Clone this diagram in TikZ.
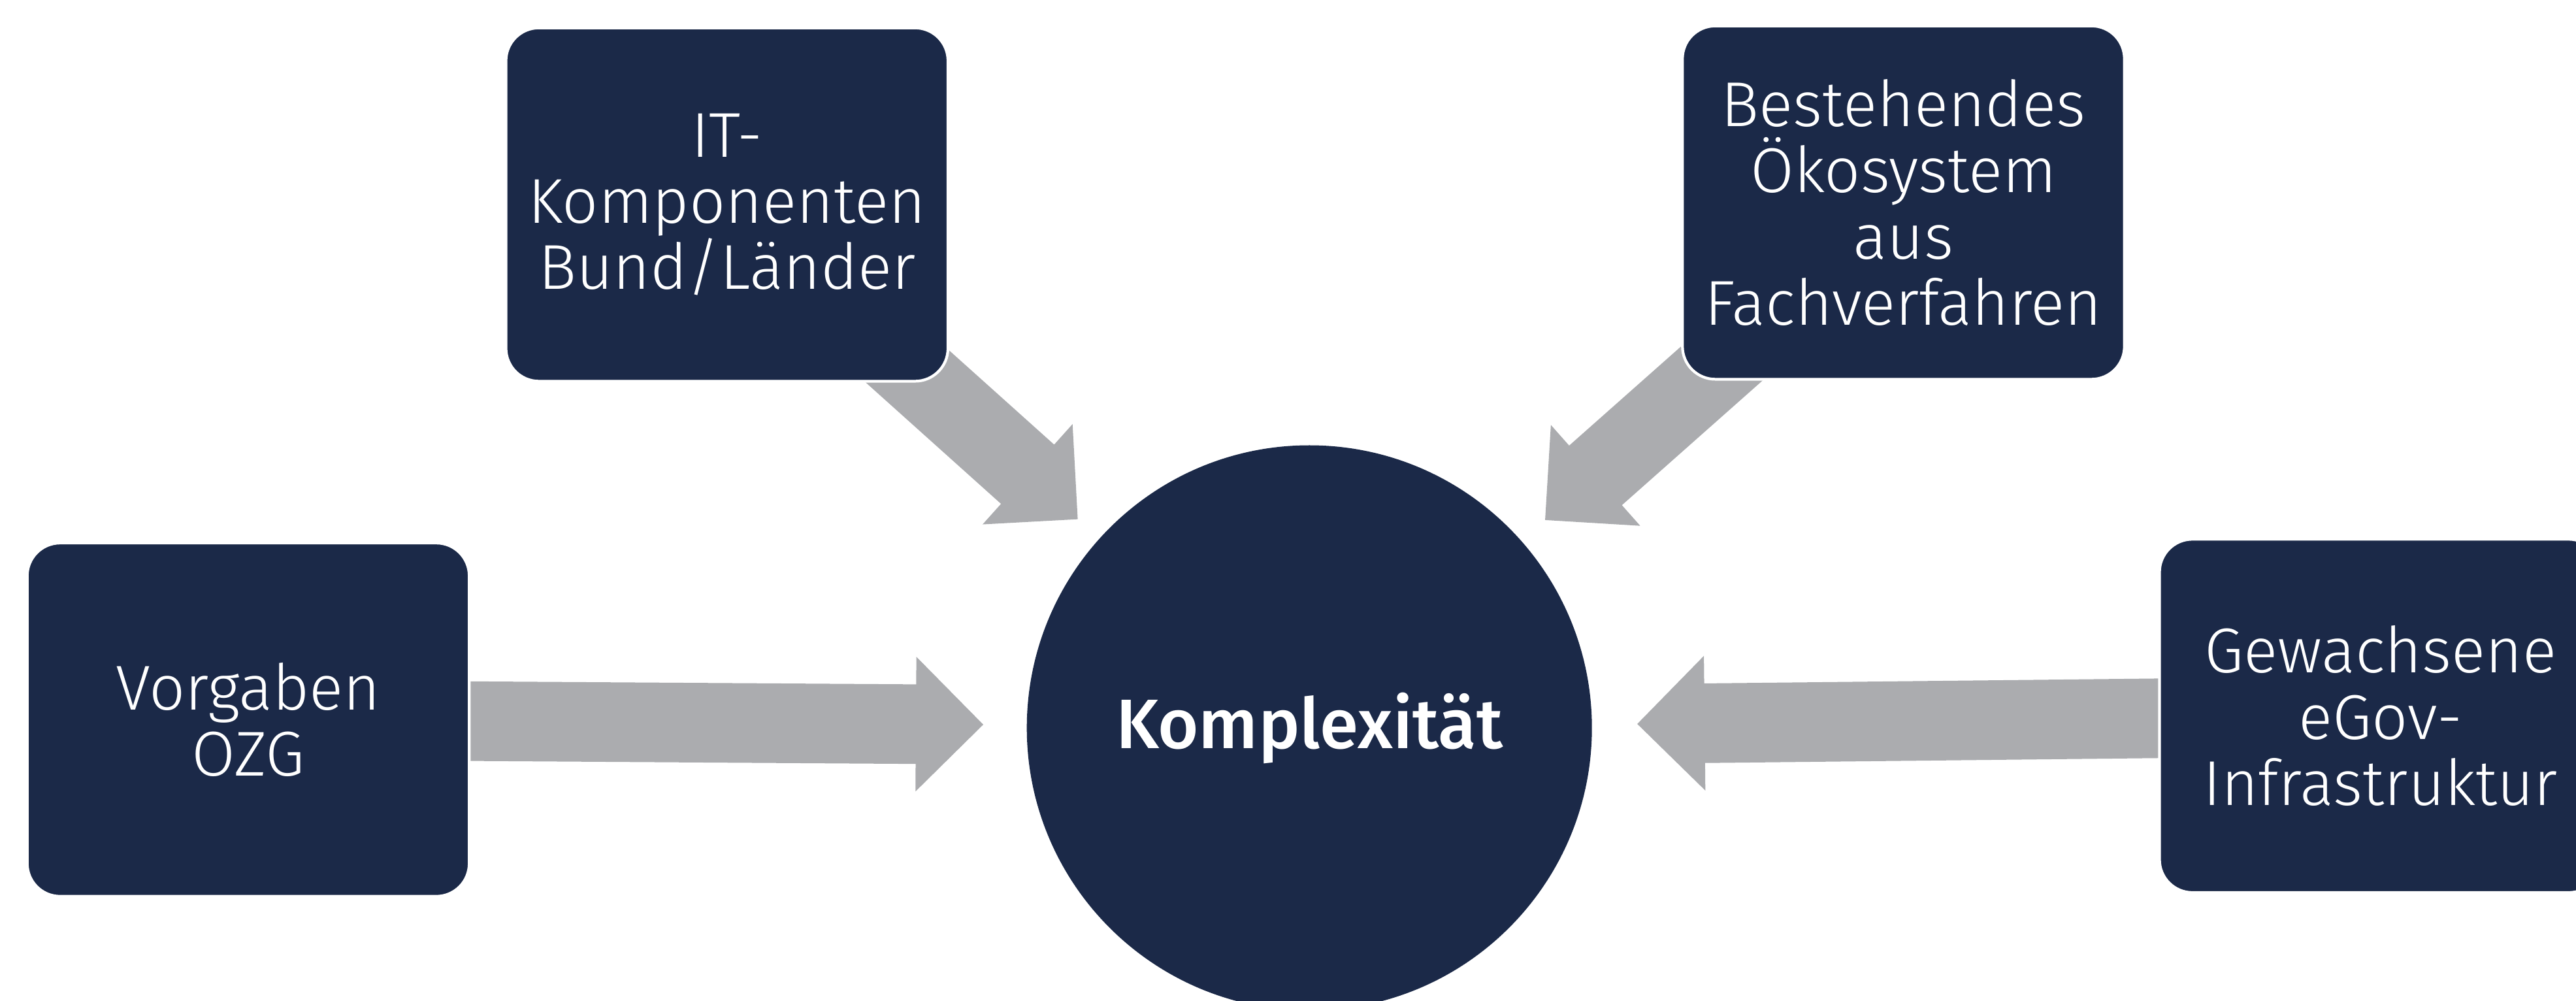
\documentclass[tikz,border=0pt]{standalone}
\usepackage{fontspec}
\IfFontExistsTF{Fira Sans Light}{\newfontfamily\lightfont{Fira Sans Light}}{\newfontfamily\lightfont{Fira Sans}}
\IfFontExistsTF{Fira Sans Medium}{\newfontfamily\heavyfont{Fira Sans Medium}}{\newfontfamily\heavyfont{Fira Sans}[UprightFont={* Bold}]}
\usetikzlibrary{calc,backgrounds}
\definecolor{navy}{RGB}{27,41,72}
\definecolor{arrowgray}{RGB}{171,172,175}
\newcommand\blockarrow[2]{%
  \coordinate (ba-b) at ($(#2)!1.031cm!(#1.center)$);
  \fill[arrowgray] ($(#1.center)!0.609cm!90:(#2)$) -- ($(ba-b)!0.609cm!90:(#2)$)
    -- ($(ba-b)!1.031cm!90:(#2)$) -- (#2) -- ($(ba-b)!1.031cm!-90:(#2)$)
    -- ($(ba-b)!0.609cm!-90:(#2)$) -- ($(#1.center)!0.609cm!-90:(#2)$) -- cycle;}
\tikzset{
  box/.style={rectangle, rounded corners=0.503cm, fill=navy, draw=white, line width=1.2pt,
    text=white, minimum width=6.765cm, minimum height=5.407cm, align=center, inner sep=0pt,
    font=\lightfont\fontsize{27.6}{28.8}\selectfont},
  hub/.style={circle, fill=navy, minimum size=8.65cm, inner sep=0pt, text=white,
    font=\heavyfont\fontsize{30.5}{36}\selectfont}
}
\begin{document}
\begin{tikzpicture}[x=0.025147cm,y=-0.025147cm]
\useasboundingbox (0,0) rectangle (1568,609);
\node[box] (it) at (442.5,124.5) {IT-\\Komponenten\\Bund/Länder};
\node[box] (oeko) at (1158.6,123.3) {Bestehendes\\Ökosystem\\aus\\Fachverfahren};
\node[box] (ozg) at (151.1,438) {Vorgaben\\OZG};
\node[box] (egov) at (1449,435.7) {Gewachsene\\eGov-\\Infrastruktur};
\node[hub] (k) at (797,443) {Komplexität};
\coordinate (t-it) at (656,316);
\coordinate (t-oeko) at (940.5,316.5);
\coordinate (t-ozg) at (598.5,441);
\coordinate (t-egov) at (996.6,440.6);
\begin{pgfonlayer}{background}
\blockarrow{it}{t-it}
\blockarrow{oeko}{t-oeko}
\blockarrow{ozg}{t-ozg}
\blockarrow{egov}{t-egov}
\end{pgfonlayer}
\end{tikzpicture}
\end{document}
